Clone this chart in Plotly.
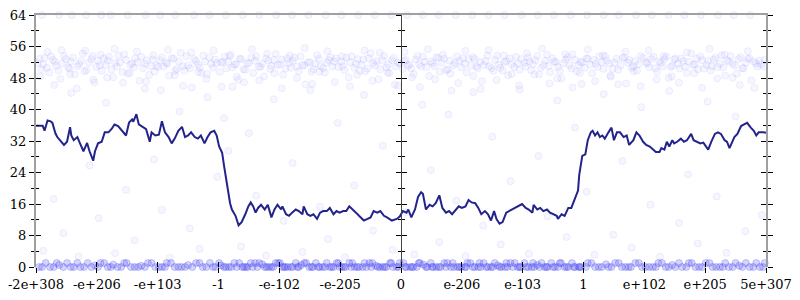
import plotly.graph_objects as go

# ---------------- data ----------------
tick_vals = [-6, -5, -4, -3, -2, -1, 0, 1, 2, 3, 4, 5, 6]
tick_text = ["-2e+308", "-e+206", "-e+103", "-1", "-e-102", "-e-205", "0",
             "e-206", "e-103", "1", "e+102", "e+205", "5e+307"]

# moving-average line
line_x = [-6.00, -5.89, -5.86, -5.81, -5.76, -5.73, -5.68, -5.65, -5.54, -5.49, -5.44, -5.42, -5.38,
          -5.32, -5.28, -5.22, -5.16, -5.12, -5.06, -5.03, -4.98, -4.92, -4.87, -4.81, -4.76, -4.71,
          -4.65, -4.57, -4.52, -4.47, -4.42, -4.40, -4.35, -4.31, -4.25, -4.19, -4.13, -4.10, -4.04,
          -3.98, -3.93, -3.88, -3.82, -3.77, -3.72, -3.66, -3.60, -3.55, -3.50, -3.45, -3.39, -3.34,
          -3.29, -3.23, -3.18, -3.13, -3.07, -3.03, -2.99, -2.94, -2.91, -2.88, -2.85, -2.81, -2.78,
          -2.72, -2.67, -2.62, -2.56, -2.51, -2.47, -2.43, -2.39, -2.35, -2.30, -2.24, -2.19, -2.13,
          -2.08, -2.03, -1.97, -1.95, -1.89, -1.84, -1.79, -1.73, -1.68, -1.62, -1.60, -1.54, -1.49,
          -1.44, -1.38, -1.33, -1.28, -1.22, -1.17, -1.11, -1.06, -1.01, -0.95, -0.90, -0.85, -0.79,
          -0.74, -0.69, -0.61, -0.55, -0.50, -0.45, -0.39, -0.34, -0.28, -0.23, -0.15, -0.07, -0.02,
          0.03, 0.09, 0.12, 0.17, 0.23, 0.28, 0.33, 0.36, 0.41, 0.47, 0.52, 0.57, 0.63, 0.68, 0.74,
          0.79, 0.84, 0.90, 0.95, 1.00, 1.06, 1.11, 1.16, 1.22, 1.27, 1.32, 1.38, 1.43, 1.48, 1.53,
          1.57, 1.62, 1.67, 1.73, 1.78, 1.83, 1.89, 1.94, 1.99, 2.05, 2.10, 2.16, 2.18, 2.24, 2.29,
          2.34, 2.40, 2.45, 2.50, 2.56, 2.58, 2.64, 2.69, 2.75, 2.80, 2.83, 2.88, 2.91, 2.93, 2.98,
          3.03, 3.07, 3.12, 3.15, 3.19, 3.23, 3.27, 3.31, 3.35, 3.39, 3.41, 3.46, 3.50, 3.55, 3.60,
          3.66, 3.71, 3.75, 3.82, 3.87, 3.92, 3.98, 4.03, 4.09, 4.14, 4.19, 4.25, 4.28, 4.33, 4.37,
          4.41, 4.46, 4.49, 4.54, 4.60, 4.65, 4.70, 4.77, 4.81, 4.86, 4.92, 4.97, 5.01, 5.05, 5.10,
          5.16, 5.21, 5.26, 5.32, 5.36, 5.40, 5.44, 5.48, 5.53, 5.59, 5.64, 5.69, 5.75, 5.80, 5.84,
          5.88, 5.96, 6.00]
line_y = [35.9, 35.9, 34.6, 37.2, 37.0, 36.6, 33.9, 33.0, 31.0, 31.8, 35.5, 33.4, 32.2,
          33.0, 31.5, 29.4, 31.5, 29.4, 27.0, 29.4, 31.4, 31.8, 34.2, 34.2, 35.0, 36.2,
          35.8, 34.2, 33.4, 36.7, 37.5, 36.9, 38.8, 36.2, 35.5, 35.0, 31.8, 34.2, 33.4,
          33.6, 37.0, 34.2, 33.0, 31.4, 32.6, 34.6, 35.6, 33.0, 33.4, 34.2, 33.0, 32.6,
          33.4, 31.4, 33.0, 34.2, 34.6, 33.4, 30.6, 29.0, 25.8, 22.6, 19.4, 16.2, 14.6,
          13.0, 10.6, 11.4, 13.4, 15.4, 16.4, 15.4, 13.8, 15.0, 15.8, 14.6, 15.8, 12.6,
          14.6, 15.8, 14.6, 15.4, 13.4, 13.0, 13.8, 14.6, 14.2, 13.4, 15.4, 13.4, 13.0,
          13.4, 12.2, 13.8, 14.2, 14.2, 15.0, 13.4, 14.2, 13.8, 14.2, 14.2, 15.4, 14.6,
          13.8, 13.0, 11.8, 12.2, 12.6, 14.2, 13.8, 14.2, 13.0, 12.6, 11.8, 12.2, 12.8,
          14.2, 13.8, 14.6, 12.6, 14.6, 17.8, 19.0, 18.6, 14.6, 15.8, 15.4, 16.2, 18.2, 15.0, 13.8,
          14.2, 13.4, 14.6, 15.4, 15.0, 15.4, 17.0, 16.4, 16.2, 15.0, 13.4, 14.2, 13.4, 11.8, 14.2,
          12.2, 11.0, 11.4, 13.8, 14.2, 14.6, 15.0, 15.4, 16.0, 15.0, 14.6, 13.8, 15.8, 14.6, 15.0,
          14.2, 14.6, 13.8, 13.4, 13.0, 12.2, 13.4, 13.0, 15.0, 15.0, 16.2, 18.6, 19.4, 23.4, 28.2,
          28.6, 32.2, 34.2, 34.6, 33.4, 34.2, 33.0, 33.4, 32.6, 33.8, 34.2, 35.4, 32.2, 34.2, 34.2,
          33.0, 33.4, 31.0, 32.2, 34.2, 33.4, 31.8, 31.0, 30.6, 29.8, 29.2, 29.2, 30.2, 29.8, 31.8,
          30.6, 32.2, 31.4, 31.8, 32.6, 31.8, 32.2, 33.8, 32.2, 31.8, 31.4, 31.6, 30.6, 29.8, 31.8,
          33.8, 34.2, 33.8, 32.2, 31.8, 30.2, 31.4, 33.0, 33.8, 35.8, 36.2, 36.6, 35.4, 34.6, 33.4,
          34.2, 34.2, 34.1]

# upper cloud of points (three passes)
band_x = [-5.97, -5.91, -5.86, -5.78, -5.72, -5.67, -5.60, -5.54, -5.47, -5.43, -5.36, -5.29, -5.23, -5.17, -5.09, -5.04,
          -4.98, -4.92, -4.85, -4.80, -4.73, -4.67, -4.62, -4.55, -4.49, -4.42, -4.37, -4.30, -4.24, -4.18, -4.11, -4.05,
          -3.99, -3.93, -3.86, -3.81, -3.74, -3.69, -3.62, -3.56, -3.50, -3.44, -3.37, -3.31, -3.25, -3.19, -3.12, -3.06,
          -2.98, -2.93, -2.87, -2.80, -2.74, -2.68, -2.63, -2.56, -2.50, -2.43, -2.38, -2.31, -2.25, -2.18, -2.13, -2.06,
          -1.99, -1.94, -1.87, -1.81, -1.75, -1.68, -1.62, -1.57, -1.50, -1.44, -1.38, -1.32, -1.25, -1.19, -1.13, -1.07,
          -0.98, -0.93, -0.86, -0.81, -0.74, -0.68, -0.62, -0.55, -0.50, -0.43, -0.37, -0.31, -0.24, -0.19, -0.12, -0.05,
          0.03, 0.08, 0.14, 0.21, 0.27, 0.33, 0.39, 0.46, 0.52, 0.58, 0.64, 0.71, 0.77, 0.83, 0.89, 0.96,
          1.02, 1.08, 1.15, 1.21, 1.26, 1.33, 1.39, 1.45, 1.52, 1.58, 1.63, 1.70, 1.76, 1.82, 1.89, 1.95,
          2.03, 2.09, 2.14, 2.21, 2.27, 2.34, 2.40, 2.45, 2.52, 2.58, 2.64, 2.71, 2.77, 2.82, 2.89, 2.95,
          3.02, 3.07, 3.14, 3.20, 3.26, 3.33, 3.38, 3.45, 3.51, 3.57, 3.64, 3.70, 3.75, 3.82, 3.88, 3.94,
          4.03, 4.08, 4.15, 4.21, 4.27, 4.33, 4.40, 4.46, 4.51, 4.58, 4.64, 4.70, 4.77, 4.83, 4.88, 4.95,
          5.02, 5.09, 5.14, 5.20, 5.27, 5.33, 5.39, 5.45, 5.52, 5.58, 5.63, 5.70, 5.76, 5.83, 5.89, 5.96]
band_y = [51.8, 50.2, 53.1, 49.4, 52.6, 51.1, 47.8, 53.6, 50.7, 52.2, 48.9, 51.5, 54.2, 50.0, 52.8, 46.9,
          52.4, 49.8, 51.3, 53.4, 48.2, 50.9, 52.0, 54.0, 49.1, 51.7, 53.0, 47.3, 50.5, 52.5, 51.0, 49.6,
          50.8, 53.3, 51.9, 48.6, 52.9, 50.3, 54.4, 49.9, 51.2, 45.6, 52.3, 50.6, 53.7, 49.0, 51.6, 52.7,
          49.5, 52.1, 50.4, 53.9, 51.4, 47.5, 52.8, 50.1, 51.8, 49.3, 53.5, 50.8, 48.4, 52.4, 51.1, 54.1,
          51.5, 48.8, 52.9, 50.6, 53.2, 49.7, 51.3, 46.4, 52.0, 50.2, 53.8, 51.0, 49.4, 52.6, 50.9, 53.0,
          52.2, 50.0, 48.1, 53.5, 51.6, 49.8, 52.7, 50.4, 54.3, 51.2, 47.7, 52.5, 50.7, 49.2, 53.1, 51.9,
          50.3, 52.6, 51.4, 49.0, 53.6, 50.9, 52.1, 48.5, 51.7, 53.3, 49.6, 52.9, 50.2, 44.8, 51.8, 52.4,
          53.0, 49.4, 51.1, 52.8, 50.5, 47.2, 52.3, 51.0, 49.8, 53.7, 50.6, 52.0, 48.7, 51.5, 53.4, 50.1,
          51.9, 53.2, 50.0, 52.5, 48.9, 51.3, 53.9, 49.5, 52.2, 50.8, 47.9, 52.7, 51.2, 54.0, 49.7, 52.1,
          50.6, 52.9, 49.2, 51.6, 53.5, 50.3, 52.4, 48.3, 51.9, 50.1, 53.1, 46.6, 52.6, 51.0, 49.9, 53.6,
          52.0, 50.7, 53.4, 49.6, 51.8, 52.8, 48.0, 51.1, 53.0, 50.4, 52.3, 49.3, 54.2, 51.5, 50.2, 52.5,
          51.3, 49.9, 52.7, 50.8, 53.8, 48.6, 52.1, 51.6, 49.1, 53.3, 50.5, 52.9, 47.4, 51.7, 52.4, 50.9]
band2_x = [-5.94, -5.88, -5.82, -5.75, -5.69, -5.63, -5.57, -5.51, -5.45, -5.39, -5.32, -5.26, -5.20, -5.13, -5.07, -5.01,
           -4.95, -4.89, -4.82, -4.76, -4.70, -4.64, -4.58, -4.52, -4.45, -4.39, -4.33, -4.27, -4.21, -4.14, -4.08, -4.02,
           -3.96, -3.90, -3.84, -3.77, -3.71, -3.65, -3.59, -3.53, -3.47, -3.40, -3.34, -3.28, -3.22, -3.15, -3.09, -3.03,
           -2.96, -2.90, -2.84, -2.77, -2.71, -2.65, -2.59, -2.53, -2.46, -2.40, -2.34, -2.28, -2.22, -2.15, -2.09, -2.03,
           -1.96, -1.90, -1.84, -1.78, -1.71, -1.65, -1.59, -1.53, -1.47, -1.41, -1.35, -1.28, -1.22, -1.16, -1.10, -1.03,
           -0.96, -0.90, -0.84, -0.77, -0.71, -0.65, -0.59, -0.53, -0.46, -0.40, -0.34, -0.28, -0.21, -0.15, -0.09, -0.02,
           0.05, 0.11, 0.17, 0.24, 0.30, 0.36, 0.42, 0.49, 0.55, 0.61, 0.67, 0.74, 0.80, 0.86, 0.92, 0.99,
           1.05, 1.11, 1.18, 1.24, 1.30, 1.36, 1.42, 1.49, 1.55, 1.61, 1.67, 1.73, 1.79, 1.86, 1.92, 1.98,
           2.05, 2.11, 2.17, 2.24, 2.30, 2.37, 2.43, 2.49, 2.55, 2.61, 2.67, 2.74, 2.80, 2.86, 2.92, 2.98,
           3.05, 3.11, 3.17, 3.23, 3.30, 3.36, 3.42, 3.48, 3.54, 3.61, 3.67, 3.73, 3.79, 3.85, 3.91, 3.98,
           4.05, 4.11, 4.18, 4.24, 4.30, 4.36, 4.43, 4.49, 4.55, 4.61, 4.67, 4.73, 4.80, 4.86, 4.92, 4.98,
           5.05, 5.11, 5.17, 5.24, 5.30, 5.36, 5.42, 5.49, 5.55, 5.61, 5.67, 5.73, 5.80, 5.86, 5.92, 5.98]
band2_y = [52.9, 51.4, 50.6, 53.5, 52.1, 49.9, 51.7, 52.8, 50.4, 53.2, 51.0, 52.3, 49.7, 51.9, 53.6, 50.8,
           51.2, 53.0, 52.4, 50.1, 51.8, 53.7, 49.5, 52.6, 51.3, 50.7, 52.0, 53.4, 51.6, 48.8, 52.7, 51.1,
           52.5, 50.9, 51.6, 53.1, 49.8, 52.2, 51.0, 53.5, 50.5, 52.8, 51.4, 49.3, 52.1, 53.3, 50.6, 51.8,
           51.9, 53.4, 52.2, 50.7, 51.5, 52.9, 50.2, 51.8, 53.2, 52.4, 50.9, 51.6, 53.0, 50.3, 52.6, 51.3,
           52.7, 50.4, 51.8, 52.4, 50.9, 53.5, 51.2, 52.0, 49.6, 51.6, 52.9, 50.5, 51.9, 53.3, 52.2, 50.8,
           51.0, 53.2, 52.0, 50.6, 52.8, 51.4, 49.7, 53.0, 51.8, 52.3, 50.2, 53.6, 51.5, 52.5, 50.9, 51.7,
           52.3, 51.1, 50.4, 52.7, 51.5, 53.4, 50.8, 52.2, 51.0, 53.1, 51.9, 50.0, 52.4, 51.2, 53.5, 50.7,
           51.6, 52.9, 53.3, 50.9, 52.1, 51.3, 53.7, 50.5, 52.6, 51.4, 49.9, 52.3, 53.0, 50.8, 51.7, 52.8,
           50.9, 52.2, 51.5, 53.6, 50.6, 52.4, 51.1, 53.0, 52.0, 49.8, 51.7, 53.3, 50.4, 52.6, 51.3, 52.0,
           53.0, 51.4, 52.6, 50.8, 52.0, 53.5, 51.7, 50.3, 52.9, 51.2, 53.2, 51.9, 50.6, 52.3, 51.5, 53.1,
           51.7, 52.8, 50.5, 52.2, 51.0, 53.4, 50.8, 52.7, 51.6, 53.0, 50.9, 52.1, 51.3, 52.9, 53.5, 50.4,
           52.4, 51.0, 53.2, 51.6, 50.7, 52.5, 53.6, 51.2, 52.8, 50.5, 51.9, 53.0, 52.2, 50.9, 51.5, 52.6]
band3_x = [-5.93, -5.81, -5.70, -5.58, -5.44, -5.33, -5.19, -5.06, -4.94, -4.83, -4.71, -4.57, -4.46, -4.34,
           -4.19, -4.07, -3.95, -3.83, -3.72, -3.58, -3.45, -3.33, -3.20, -3.08, -2.95, -2.82, -2.70, -2.58,
           -2.45, -2.33, -2.20, -2.08, -1.96, -1.83, -1.71, -1.58, -1.46, -1.34, -1.21, -1.09, -0.97, -0.84,
           -0.72, -0.60, -0.47, -0.35, -0.22, -0.10, 0.06, 0.18, 0.31, 0.44, 0.56, 0.69, 0.81, 0.94,
           1.06, 1.19, 1.31, 1.44, 1.57, 1.69, 1.82, 1.94, 2.07, 2.19, 2.32, 2.44, 2.57, 2.70, 2.82, 2.94,
           3.07, 3.19, 3.32, 3.44, 3.57, 3.69, 3.82, 3.94, 4.07, 4.20, 4.32, 4.45, 4.57, 4.70, 4.82, 4.95,
           5.07, 5.20, 5.32, 5.45, 5.57, 5.70, 5.82, 5.94]
band3_y = [48.4, 54.6, 46.2, 55.1, 49.0, 45.3, 54.9, 47.6, 53.9, 48.1, 55.4, 46.8, 49.3, 54.7,
           47.1, 53.8, 44.9, 55.2, 48.7, 46.0, 54.5, 49.5, 47.8, 55.0, 45.8, 53.6, 48.3, 46.9,
           55.3, 47.4, 54.2, 49.2, 45.4, 53.7, 48.0, 55.6, 46.5, 49.6, 54.8, 47.0, 53.5, 45.9,
           48.8, 55.0, 47.3, 54.4, 49.4, 46.3, 54.6, 48.2, 45.7, 55.3, 47.7, 53.9, 49.1, 46.7,
           54.9, 48.5, 45.2, 55.1, 47.5, 53.7, 49.0, 46.1, 54.3, 48.9, 55.5, 46.6, 47.9, 54.0,
           45.6, 49.3, 55.2, 47.2, 53.8, 48.6, 46.4, 54.7, 49.7, 45.9, 55.0, 47.6, 53.6, 48.4,
           46.8, 54.5, 49.2, 45.5, 55.4, 47.9, 53.9, 48.1, 46.2, 54.8]

# points along the top edge
top_x = [-5.90, -5.62, -5.41, -5.18, -4.93, -4.77, -4.49, -4.20, -3.96, -3.71, -3.40, -3.15, -2.88, -2.60, -2.33,
         -2.05, -1.79, -1.52, -1.24, -0.98, -0.70, -0.43, -0.16, 0.10, 0.36, 0.62, 0.90, 1.17, 1.44, 1.70,
         1.98, 2.25, 2.51, 2.79, 3.06, 3.33, 3.58, 3.86, 4.12, 4.40, 4.66, 4.93, 5.21, 5.47, 5.74]
top_y = [64] * len(top_x)

# scattered points in between
sparse_x = [-5.88, -5.71, -5.55, -5.42, -5.30, -5.12, -4.97, -4.85, -4.70, -4.52, -4.38, -4.21, -4.06, -3.93,
            -3.80, -3.64, -3.47, -3.31, -3.18, -3.02, -2.91, -2.84, -2.77, -2.63, -2.50, -2.38, -2.22, -2.09,
            -1.93, -1.78, -1.62, -1.49, -1.33, -1.20, -1.04, -0.92, -0.77, -0.61, -0.46, -0.30, -0.14, -0.05,
            0.08, 0.22, 0.35, 0.49, 0.63, 0.78, 0.91, 1.06, 1.19, 1.35, 1.50, 1.64, 1.80, 1.95, 2.10, 2.26,
            2.41, 2.57, 2.72, 2.86, 2.97, 3.05, 3.18, 3.33, 3.49, 3.64, 3.79, 3.95, 4.10, 4.26, 4.41, 4.57,
            4.72, 4.88, 5.04, 5.19, 5.35, 5.50, 5.66, 5.81, 5.93]
sparse_y = [4.1, 17.3, 8.6, 44.2, 2.7, 25.8, 12.4, 41.7, 3.5, 19.6, 6.8, 45.3, 27.3, 14.5,
            2.3, 39.5, 9.8, 4.6, 43.1, 22.9, 37.8, 29.5, 45.8, 5.2, 34.0, 18.1, 2.9, 42.6,
            11.7, 26.4, 3.8, 44.9, 15.3, 7.1, 36.6, 2.5, 20.7, 43.7, 9.3, 30.8, 4.4, 46.0,
            13.9, 3.2, 41.2, 24.6, 6.3, 38.7, 16.8, 2.8, 44.4, 10.5, 33.1, 5.7, 21.8, 45.1, 3.4, 28.2,
            12.9, 42.3, 7.6, 35.4, 46.5, 19.1, 3.1, 43.9, 8.2, 26.9, 4.9, 40.6, 15.8, 2.6, 44.7, 11.2,
            23.5, 6.0, 42.0, 17.9, 3.6, 38.2, 9.1, 45.5, 13.2]

# dense strip near zero
bottom_x = [-5.95, -5.84, -5.71, -5.62, -5.49, -5.38, -5.27, -5.15, -5.03,
            -4.94, -4.82, -4.73, -4.60, -4.51, -4.38, -4.27, -4.16, -4.04,
            -3.93, -3.85, -3.72, -3.61, -3.50, -3.37, -3.26, -3.14, -3.05,
            -2.96, -2.83, -2.74, -2.61, -2.52, -2.40, -2.28, -2.17, -2.06,
            -1.95, -1.86, -1.73, -1.64, -1.51, -1.40, -1.29, -1.17, -1.06,
            -0.97, -0.85, -0.76, -0.63, -0.52, -0.41, -0.30, -0.18, -0.07,
            0.04, 0.15, 0.26, 0.37, 0.49, 0.58, 0.71, 0.82, 0.93,
            1.05, 1.14, 1.27, 1.36, 1.48, 1.59, 1.71, 1.80, 1.92,
            2.03, 2.15, 2.24, 2.36, 2.47, 2.58, 2.69, 2.81, 2.92,
            3.04, 3.13, 3.25, 3.37, 3.46, 3.58, 3.69, 3.78, 3.91,
            4.02, 4.14, 4.23, 4.35, 4.46, 4.57, 4.69, 4.78, 4.90,
            5.01, 5.12, 5.24, 5.33, 5.45, 5.56, 5.67, 5.79, 5.90, 5.98,
            -2.91, -2.79, -2.66, -2.55, -2.44, -2.33, -2.21, -2.10, -1.99, -1.90, -1.78, -1.68, -1.56,
            -1.45, -1.34, -1.22, -1.11, -1.01, -0.91, -0.80, -0.69, -0.57, -0.47, -0.35, -0.24, -0.13,
            -0.02, 0.09, 0.20, 0.31, 0.43, 0.53, 0.65, 0.76, 0.87, 0.99, 1.09, 1.21, 1.31, 1.43, 1.54,
            1.65, 1.75, 1.87, 1.97, 2.09, 2.19, 2.31, 2.41, 2.53, 2.63, 2.75, 2.86, 2.96]
bottom_y = [0, 1, 0, 0.5, 1, 0, 0, 1, 0.4,
            1, 0, 0.6, 0, 1, 0, 0.3, 1, 0,
            0, 1, 0, 0, 0.5, 1, 0, 1, 0,
            0.4, 0, 1, 0, 0, 1, 0.7, 0, 1,
            0, 0, 1, 0.5, 0, 1, 0, 0, 1,
            0, 1, 0, 0, 1, 0.3, 0, 1, 0,
            1, 0, 0, 0.6, 1, 0, 1, 0, 0,
            0, 1, 0, 1, 0, 0.4, 0, 1, 0,
            1, 0, 0.5, 0, 1, 0, 0, 1, 0,
            0, 1, 0, 0.7, 0, 1, 0, 0, 1,
            0, 0, 1, 0, 0.5, 1, 0, 1, 0,
            1, 0, 0, 1, 0, 0.3, 1, 0, 0, 1,
            0, 0, 1, 0, 0, 1, 0, 0, 1, 0, 0, 0, 1,
            0, 0, 1, 0, 0, 0, 1, 0, 0, 1, 0, 0, 0,
            1, 0, 0, 1, 0, 0, 0, 1, 0, 0, 1, 0, 0, 0, 1,
            0, 0, 1, 0, 0, 0, 1, 0, 0, 1, 0, 0, 0]
bottom2_x = [-5.90, -5.77, -5.66, -5.55, -5.43, -5.32, -5.21, -5.09, -4.98, -4.88, -4.77, -4.66, -4.55,
             -4.44, -4.32, -4.21, -4.10, -3.98, -3.88, -3.78, -3.66, -3.55, -3.43, -3.31, -3.20, -3.09,
             -2.99, -2.88, -2.70, -2.58, -2.47, -2.36, -2.24, -2.13, -2.02, -1.92, -1.81, -1.70, -1.59,
             -1.47, -1.36, -1.25, -1.14, -1.03, -0.94, -0.82, -0.72, -0.60, -0.49, -0.38, -0.27, -0.16,
             -0.04, 0.07, 0.18, 0.29, 0.41, 0.51, 0.62, 0.74, 0.85, 0.96, 1.07, 1.18, 1.29, 1.40, 1.51,
             1.62, 1.73, 1.84, 1.95, 2.06, 2.17, 2.28, 2.39, 2.50, 2.61, 2.72, 2.84, 2.94, 3.07, 3.19,
             3.30, 3.41, 3.52, 3.63, 3.74, 3.85, 3.96, 4.08, 4.19, 4.29, 4.40, 4.51, 4.62, 4.73, 4.84,
             4.95, 5.07, 5.18, 5.29, 5.39, 5.50, 5.61, 5.73, 5.84, 5.95]
bottom2_y = [0, 0, 1, 0, 0, 1, 0, 0, 0, 1, 0, 0, 1,
             0, 0, 0, 1, 0, 0, 1, 0, 0, 0, 1, 0, 0,
             1, 0, 0, 0, 1, 0, 0, 0, 1, 0, 0, 0, 1,
             0, 0, 0, 0, 1, 0, 0, 0, 1, 0, 0, 0, 1,
             0, 0, 0, 1, 0, 0, 0, 0, 1, 0, 0, 0, 1, 0, 0,
             0, 1, 0, 0, 0, 1, 0, 0, 0, 1, 0, 0, 0, 1, 0,
             0, 0, 1, 0, 0, 1, 0, 0, 0, 1, 0, 0, 0, 1, 0,
             0, 1, 0, 0, 0, 1, 0, 0, 1, 0]

# ---------------- styles ----------------
FONT = dict(family="DejaVu Serif, DejaVu Sans", size=13, color="black")
AX_GRAY = "#a0a0a0"


def pts(x, y, fill, line, xa="x", ya="y"):
    return go.Scatter(x=x, y=y, xaxis=xa, yaxis=ya, mode="markers", hoverinfo="skip",
                      showlegend=False, cliponaxis=False,
                      marker=dict(size=7, color=fill, line=dict(color=line, width=1)))


BF, BL = "rgba(70,70,255,0.05)", "rgba(70,70,255,0.075)"
LF, LL = "rgba(50,50,240,0.20)", "rgba(50,50,240,0.24)"
fig = go.Figure()
fig.add_trace(pts(sparse_x, sparse_y, "rgba(70,70,255,0.05)", "rgba(70,70,255,0.08)", "x", "y"))
fig.add_trace(pts(top_x, top_y, "rgba(70,70,255,0.05)", "rgba(70,70,255,0.09)", "x2", "y2"))
fig.add_trace(pts(band_x, band_y, BF, BL, "x3", "y3"))
fig.add_trace(pts(band2_x, band2_y, BF, BL, "x3", "y3"))
fig.add_trace(pts(band3_x, band3_y, BF, BL, "x3", "y3"))
fig.add_trace(pts(bottom_x, bottom_y, LF, LL, "x", "y4"))
fig.add_trace(pts(bottom2_x, bottom2_y, LF, LL, "x", "y4"))
fig.add_trace(go.Scatter(x=line_x, y=line_y, xaxis="x", yaxis="y4", mode="lines", showlegend=False,
                         hoverinfo="skip", line=dict(color="#23238c", width=2)))

XR = [-6, 6]
YR = [0, 64]
minor_y = dict(ticklen=3, dtick=4, tick0=0, tickcolor="black", tickwidth=1)
base = dict(showgrid=False, zeroline=False, fixedrange=True)

fig.update_layout(
    width=800, height=300,
    margin=dict(l=28, r=26, t=8, b=26),
    paper_bgcolor="white", plot_bgcolor="white",
    font=FONT,
    xaxis=dict(base, range=XR, tickvals=tick_vals, ticktext=tick_text, ticks="outside", ticklen=5,
               tickcolor="black", tickwidth=1, showline=False, tickfont=FONT),
    xaxis2=dict(base, range=XR, overlaying="x", anchor="y", side="bottom", tickvals=tick_vals,
                ticks="inside", ticklen=5, tickcolor="black", showticklabels=False, showline=False),
    xaxis3=dict(base, range=XR, overlaying="x", anchor="y", side="top", showticklabels=False,
                ticks="", showline=True, linecolor=AX_GRAY, linewidth=2),
    yaxis=dict(base, range=YR, dtick=8, tick0=0, ticks="outside", ticklen=5, tickcolor="black",
               tickwidth=1, showline=True, linecolor=AX_GRAY, linewidth=2, mirror="ticks",
               tickfont=FONT, minor=dict(minor_y, ticks="outside")),
    yaxis2=dict(base, range=YR, overlaying="y", anchor="x", side="left", dtick=8, tick0=0,
                ticks="inside", ticklen=5, tickcolor="black", showticklabels=False,
                showline=False, mirror="ticks", minor=dict(minor_y, ticks="inside")),
    yaxis3=dict(base, range=YR, overlaying="y", anchor="free", position=0.5, side="left", dtick=8,
                tick0=0, ticks="outside", ticklen=5, tickcolor="black", showticklabels=False,
                showline=True, linecolor="#444444", linewidth=1,
                minor=dict(minor_y, ticks="outside")),
    yaxis4=dict(base, range=YR, overlaying="y", anchor="free", position=0.5, side="left", dtick=8,
                tick0=0, ticks="inside", ticklen=5, tickcolor="black", showticklabels=False,
                showline=False, minor=dict(minor_y, ticks="inside")),
)

fig.write_html("out.html")
